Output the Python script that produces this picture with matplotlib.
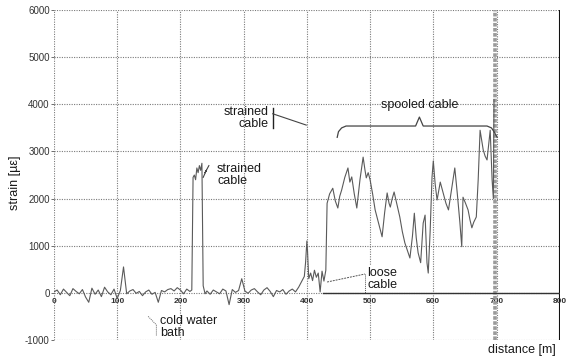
import matplotlib
matplotlib.use("Agg")
import matplotlib.pyplot as plt
import numpy as np

plt.rcParams['font.family'] = ['Liberation Sans', 'DejaVu Sans']

# fibre trace: distance [m] and strain [microstrain]
base_x1 = list(range(0, 216, 5))
base_y1 = [20, 60, -40, 80, 10, -60, 90, 30, -20, 70, -90, -200, 100, -30, 60,
           -80, 120, 20, -40, 80, -120, 50, 550, -20, 40, 70, -10, 30, -60, 20,
           60, -30, 10, -200, 50, 20, 70, 90, 40, 110, 60, -20, 80, 30]

strained_x = [218, 220, 222, 224, 226, 228, 230, 232, 234, 236, 239]
strained_y = [60, 2450, 2500, 2400, 2650, 2550, 2700, 2600, 2750, 150, -20]

base_x2 = list(range(242, 396, 5))
base_y2 = [40, -30, 60, 20, -20, 80, 40, -250, 70, 10, 50, 300, 40, -10, 60,
           90, 20, -40, 60, 110, 30, -80, 50, 20, 70, -30, 40, 80, 20, 120, 250]

loose_x = [396, 398, 400, 401, 403, 406, 409, 412, 415, 418, 421, 424, 427, 430]
loose_y = [350, 650, 1100, 900, 300, 420, 260, 480, 330, 420, 20, 460, 250, 480]

spooled_x = [432, 436, 441, 445, 449, 452, 455, 460, 465, 468, 471, 475, 479,
             484, 489, 492, 494, 497, 500, 504, 508, 513, 519, 523, 527, 530,
             532, 535, 538, 542, 547, 551, 555, 559, 563, 567, 570, 573, 576,
             580, 584, 587, 590, 592, 595, 598, 600, 603, 606, 609, 611, 615,
             620, 624, 629, 634, 638, 642, 645, 647, 651, 655, 658, 661, 664,
             668, 671, 674, 677, 679, 682, 685, 688, 690, 693, 695, 696]
spooled_y = [1900, 2100, 2220, 1950, 1800, 2050, 2180, 2450, 2650, 2350, 2460,
             2100, 1800, 2400, 2880, 2600, 2440, 2550, 2400, 2100, 1760, 1500,
             1190, 1700, 2120, 1900, 1820, 2000, 2140, 1900, 1610, 1300, 1060,
             900, 740, 1200, 1690, 1170, 850, 640, 1480, 1650, 640, 420, 1300,
             2460, 2800, 2300, 1970, 2200, 2350, 2150, 1900, 1760, 2200, 2650,
             2100, 1500, 980, 2030, 1900, 1760, 1550, 1380, 1500, 1610, 2400,
             3450, 3200, 3030, 2900, 2820, 3200, 3450, 2400, 2000, 4100]

fiber_end = 698

x_ticks = [0, 100, 200, 300, 400, 500, 600, 700, 800]
y_ticks = [-1000, 0, 1000, 2000, 3000, 4000, 5000, 6000]

dist = np.array(base_x1 + strained_x + base_x2 + loose_x + spooled_x)
strain = np.array(base_y1 + strained_y + base_y2 + loose_y + spooled_y)

fig = plt.figure(figsize=(5.7, 3.6), dpi=100)
ax = fig.add_axes([0.0947, 0.0556, 0.8873, 0.9164])
ax.set_xlim(0, 800)
ax.set_ylim(-1000, 6000)

grid_kw = dict(color='#7a7a7a', lw=0.8, linestyle=(0, (1, 1.2)), zorder=1)
for xv in x_ticks[:-1]:
    ax.plot([xv, xv], [-1000, 6000], **grid_kw)
for yv in y_ticks:
    ax.plot([0, 800], [yv, yv], **grid_kw)
for s in ax.spines.values():
    s.set_visible(False)
ax.plot([800, 800], [-1000, 6000], color='#111111', lw=1.5, zorder=3)

ax.set_xticks([])
ax.set_yticks(y_ticks)
ax.set_yticklabels([str(v) for v in y_ticks], fontsize=7, color='#333333')
ax.tick_params(axis='y', length=2, width=0.6, color='#555555', pad=1)

for xv in x_ticks:
    ax.text(xv, -190, str(xv), fontsize=6, fontweight='bold', color='#333333',
            ha='center', va='center')

# strain trace and the end of the fibre
ax.plot(dist, strain, color='#5a5a5a', lw=0.8, zorder=4)
ax.plot([fiber_end, fiber_end], [-1000, 6000], color='#9a9a9a', lw=2.6,
        linestyle=(0, (1, 0.4)), zorder=3)
ax.plot([425, 800], [0, 0], color='#333333', lw=1.0, zorder=3)

txt = dict(fontsize=9, color='#1a1a1a', zorder=6)

# upper "strained cable"
ax.text(340, 3720, 'strained\ncable', ha='right', va='center', linespacing=1.0, **txt)
ax.plot([346, 346], [3500, 3920], color='#222222', lw=1.0, zorder=5)
ax.plot([346, 399], [3800, 3560], color='#444444', lw=0.8, zorder=5)

# lower "strained cable"
ax.text(258, 2500, 'strained\ncable', ha='left', va='center', linespacing=1.0, **txt)
ax.plot([245, 239, 241, 236], [2700, 2550, 2600, 2450], color='#444444', lw=0.8, zorder=5)

# spooled cable brace
brace_x = [448, 450, 455, 462, 572, 578, 584, 685, 692, 696, 701]
brace_y = [3300, 3420, 3500, 3540, 3540, 3730, 3540, 3540, 3500, 3420, 3300]
ax.plot(brace_x, brace_y, color='#444444', lw=0.9, zorder=5)
ax.text(579, 3990, 'spooled cable', ha='center', va='center', **txt)

# loose cable
ax.text(496, 290, 'loose\ncable', ha='left', va='center', linespacing=1.05,
        bbox=dict(facecolor='white', edgecolor='none', pad=0.5), **txt)
ax.plot([432, 492], [230, 400], color='#555555', lw=0.7, linestyle=(0, (2, 1)), zorder=5)
ax.plot([492, 492], [400, 0], color='#555555', lw=0.7, linestyle=(0, (1, 1)), zorder=5)

# cold water bath
ax.text(168, -720, 'cold water\nbath', ha='left', va='center', linespacing=1.05, **txt)
ax.plot([149, 162, 162], [-500, -680, -920], color='#666666', lw=0.7,
        linestyle=(0, (1, 1)), zorder=5)

fig.text(15 / 570, 1 - 183 / 360, 'strain [\u00b5\u03b5]', rotation=90,
         ha='center', va='center', fontsize=9, color='#1a1a1a')
fig.text(556 / 570, 1 - 350 / 360, 'distance [m]', ha='right', va='center',
         fontsize=9, color='#1a1a1a')

fig.savefig('out.png', dpi=100)
